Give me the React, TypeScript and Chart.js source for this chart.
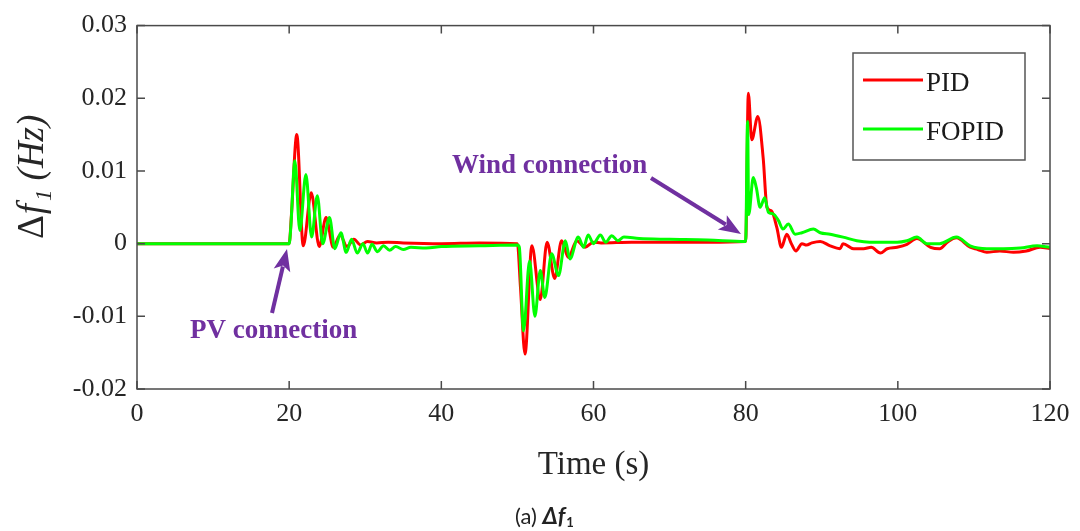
import React, { useEffect, useRef } from 'react';
import { Chart, registerables } from 'chart.js';

Chart.register(...registerables);

// ---------- data ----------
const seriesNames = ['PID', 'FOPID'];
const seriesColors = ['#ff0000', '#00ff00'];
const xTickValues = [0, 20, 40, 60, 80, 100, 120];
const yTickLabels = ['-0.02', '-0.01', '0', '0.01', '0.02', '0.03'];
const xTitle = 'Time (s)';
const annotationTexts = ['PV connection', 'Wind connection'];
const captionText = '(a) ';

const pidT = [
  0, 20, 20.3, 21.0, 21.85, 22.9, 23.95, 24.85, 25.8, 26.7, 27.6, 28.5, 29.4, 30.3, 31.5, 33, 35, 40, 45, 50,
  50.4, 51.0, 51.9, 53.0, 53.9, 54.9, 55.8, 56.7, 57.8, 58.9, 60, 61, 65, 70, 75, 80.0,
  80.35, 80.8, 81.6, 82.3, 82.8, 83.4, 84.1, 84.7, 85.4, 86.0, 86.6, 87.4, 88.0, 88.7, 89.8, 91.1, 92.4, 92.8,
  94.2, 95.5, 96.5, 97.7, 98.6, 99.9, 101.2, 102.5, 104.3, 105.5, 106.5, 107.7, 109.5, 110.5, 111.7, 113.4,
  115.2, 116.9, 118.7, 120,
];
const pidV = [
  0, 0, 0.004, 0.015, -0.0003, 0.007, -0.0004, 0.0036, -0.0005, 0.0012, -0.0004, 0.0006, -0.0002, 0.0003, 0.0001, 0.0002, 0.0001, 0, 0.0001, 0,
  -0.006, -0.0152, -0.0003, -0.0077, 0.0002, -0.0048, 0.0004, -0.0019, 0.0004, -0.0005, 0.0002, 0.0001, 0.0002, 0.0002, 0.0002, 0.0003,
  0.0207, 0.0143, 0.0175, 0.0118, 0.005, 0.0045, 0.0022, -0.0005, 0.0013, 0.0, -0.001, 0.0, -0.0002, 0.0001, 0.0003, -0.0003, -0.0007, 0.0,
  -0.0007, -0.0007, -0.0005, -0.0013, -0.0007, -0.0005, -0.0001, 0.0007, -0.0005, -0.0007, 0.0002, 0.0008, -0.0005, -0.0008, -0.0012, -0.001,
  -0.0012, -0.001, -0.0005, -0.0007,
];

const fopidT = [
  0, 20, 20.2, 20.75, 21.4, 22.2, 22.95, 23.7, 24.4, 25.3, 26.0, 26.8, 27.5, 28.2, 28.95, 29.7, 30.3, 30.9, 31.6, 32.4,
  33.2, 34.0, 35, 36, 38, 40, 45, 50, 50.25, 50.8, 51.6, 52.3, 53.0, 53.6, 54.5, 55.4, 56.3, 56.9, 58.0, 58.7,
  59.3, 60.0, 60.9, 61.6, 62.4, 63.2, 64, 66, 70, 75, 80, 80.25, 80.4, 81.0, 81.4, 81.9, 82.5, 83.0, 83.6, 84.3,
  84.9, 85.6, 86.5, 87.4, 88.9, 89.8, 91.1, 92.8, 94.6, 96.3, 97.6, 99.9, 101.2, 102.5, 103.8, 105.5, 107.7, 109.5,
  111.7, 113.9, 116.1, 118.3, 120,
];
const fopidV = [
  0, 0, 0.002, 0.0114, 0.0018, 0.0095, 0.0009, 0.0066, 0.0, 0.0036, -0.0007, 0.0015, -0.0012, 0.0006, -0.0013, 0.0, -0.0013, -0.0001, -0.0011, -0.0003,
  -0.0009, -0.0004, -0.0008, -0.0005, -0.0006, -0.0004, -0.0003, -0.0002, -0.0005, -0.012, -0.0024, -0.01, -0.0037, -0.0074, -0.0014, -0.0044, 0.0004, -0.0021, 0.0009, -0.0005,
  0.0012, 0.0, 0.0012, 0.0002, 0.0011, 0.0004, 0.0009, 0.0007, 0.0006, 0.0005, 0.0003, 0.0168, 0.004, 0.0091, 0.0077, 0.005, 0.0063, 0.0043, 0.0041, 0.0032,
  0.002, 0.0027, 0.0013, 0.0015, 0.002, 0.0015, 0.0013, 0.0009, 0.0004, 0.0002, 0.0002, 0.0002, 0.0004, 0.0009, 0.0, 0.0, 0.0009, -0.0003,
  -0.0007, -0.0007, -0.0006, -0.0003, -0.0005,
];

// ---------- drawing helpers ----------
const PURPLE = '#7030a0';
const SERIF = '"Liberation Serif", "Times New Roman", serif';

function arrow(ctx: CanvasRenderingContext2D, x1: number, y1: number, x2: number, y2: number) {
  const ang = Math.atan2(y2 - y1, x2 - x1);
  const headLen = 22;
  const headW = 8.5;
  const bx = x2 - headLen * Math.cos(ang);
  const by = y2 - headLen * Math.sin(ang);
  ctx.strokeStyle = PURPLE;
  ctx.fillStyle = PURPLE;
  ctx.lineWidth = 4;
  ctx.beginPath();
  ctx.moveTo(x1, y1);
  ctx.lineTo(bx + 4 * Math.cos(ang), by + 4 * Math.sin(ang));
  ctx.stroke();
  ctx.beginPath();
  ctx.moveTo(x2, y2);
  ctx.lineTo(bx + headW * Math.sin(ang), by - headW * Math.cos(ang));
  ctx.lineTo(bx + 5 * Math.cos(ang), by + 5 * Math.sin(ang));
  ctx.lineTo(bx - headW * Math.sin(ang), by + headW * Math.cos(ang));
  ctx.closePath();
  ctx.fill();
}

const decorPlugin = {
  id: 'decor',
  afterDatasetsDraw(chart: any) {
    const { ctx, chartArea: a, scales } = chart;
    ctx.save();
    // frame
    ctx.strokeStyle = '#4a4a4a';
    ctx.lineWidth = 1.5;
    ctx.strokeRect(a.left, a.top, a.right - a.left, a.bottom - a.top);
    // inward ticks
    ctx.beginPath();
    scales.x.ticks.forEach((t: any) => {
      const px = scales.x.getPixelForValue(t.value);
      ctx.moveTo(px, a.bottom); ctx.lineTo(px, a.bottom - 8);
      ctx.moveTo(px, a.top); ctx.lineTo(px, a.top + 8);
    });
    scales.y.ticks.forEach((t: any) => {
      const py = scales.y.getPixelForValue(t.value);
      ctx.moveTo(a.left, py); ctx.lineTo(a.left + 8, py);
      ctx.moveTo(a.right, py); ctx.lineTo(a.right - 8, py);
    });
    ctx.stroke();

    // legend box
    const lx = 853, ly = 53, lw = 172, lh = 107;
    ctx.fillStyle = '#ffffff';
    ctx.fillRect(lx, ly, lw, lh);
    ctx.strokeStyle = '#555555';
    ctx.lineWidth = 1.5;
    ctx.strokeRect(lx, ly, lw, lh);
    const ds = chart.data.datasets;
    const rows = [80, 129];
    ds.forEach((d: any, i: number) => {
      ctx.strokeStyle = d.borderColor;
      ctx.lineWidth = 3;
      ctx.beginPath();
      ctx.moveTo(863, rows[i]);
      ctx.lineTo(923, rows[i]);
      ctx.stroke();
      ctx.fillStyle = '#1a1a1a';
      ctx.font = `27px ${SERIF}`;
      ctx.textAlign = 'left';
      ctx.textBaseline = 'alphabetic';
      ctx.fillText(d.label, 926, rows[i] + 11);
    });

    // annotations
    ctx.fillStyle = PURPLE;
    ctx.font = `bold 27px ${SERIF}`;
    ctx.textAlign = 'left';
    ctx.textBaseline = 'alphabetic';
    ctx.fillText(annotationTexts[0], 190, 338);
    ctx.fillText(annotationTexts[1], 452, 173);
    arrow(ctx, 272, 313, 287, 249);
    arrow(ctx, 651, 178, 741, 234);
    ctx.restore();
  },
  afterDraw(chart: any) {
    const { ctx } = chart;
    ctx.save();
    // y-axis title: Δf1 (Hz)
    ctx.translate(43, 239);
    ctx.rotate(-Math.PI / 2);
    ctx.fillStyle = '#262626';
    ctx.textAlign = 'left';
    ctx.textBaseline = 'alphabetic';
    let x = 0;
    ctx.font = `37px ${SERIF}`;
    ctx.fillText('Δ', x, 0);
    x += ctx.measureText('Δ').width + 1;
    ctx.font = `italic 37px ${SERIF}`;
    ctx.fillText('f', x, 0);
    x += ctx.measureText('f').width + 3;
    ctx.font = `italic 23px ${SERIF}`;
    ctx.fillText('1', x, 8);
    x += ctx.measureText('1').width + 9;
    ctx.font = `italic 37px ${SERIF}`;
    ctx.fillText('(Hz)', x, 0);
    ctx.restore();

    // caption
    ctx.save();
    ctx.fillStyle = '#222222';
    ctx.textBaseline = 'alphabetic';
    ctx.textAlign = 'left';
    let cx = 515;
    const cy = 524;
    ctx.font = '22px Lato, "Open Sans", sans-serif';
    ctx.fillText(captionText, cx, cy);
    cx += ctx.measureText(captionText).width;
    ctx.font = 'bold italic 23px Lato, "Open Sans", sans-serif';
    ctx.fillText('Δ', cx, cy);
    cx += ctx.measureText('Δ').width;
    ctx.fillText('f', cx, cy);
    cx += ctx.measureText('f').width + 1;
    ctx.font = 'bold 13px Lato, "Open Sans", sans-serif';
    ctx.fillText('1', cx, cy + 3);
    ctx.restore();
  },
};

export default function App() {
  const ref = useRef<HTMLCanvasElement | null>(null);

  useEffect(() => {
    document.body.style.margin = '0';
    const canvas = ref.current;
    if (!canvas) return;
    const pid = pidT.map((t, i) => ({ x: t, y: pidV[i] }));
    const fopid = fopidT.map((t, i) => ({ x: t, y: fopidV[i] }));
    const chart = new Chart(canvas, {
      type: 'line',
      data: {
        datasets: [
          {
            label: seriesNames[0],
            data: pid,
            borderColor: seriesColors[0],
            backgroundColor: seriesColors[0],
            borderWidth: 3,
            pointRadius: 0,
            cubicInterpolationMode: 'monotone',
            order: 2,
          },
          {
            label: seriesNames[1],
            data: fopid,
            borderColor: seriesColors[1],
            backgroundColor: seriesColors[1],
            borderWidth: 3,
            pointRadius: 0,
            cubicInterpolationMode: 'monotone',
            order: 1,
          },
        ],
      },
      options: {
        responsive: false,
        animation: false,
        events: [],
        layout: { padding: { top: 24, right: 30, left: 0, bottom: 0 } },
        plugins: { legend: { display: false }, tooltip: { enabled: false } },
        scales: {
          x: {
            type: 'linear',
            min: 0,
            max: 120,
            afterBuildTicks: (s: any) => {
              s.ticks = xTickValues.map((v) => ({ value: v }));
            },
            afterFit: (s: any) => {
              s.height = 142;
            },
            grid: { display: false, drawTicks: false },
            border: { display: false },
            ticks: {
              padding: 10,
              color: '#262626',
              font: { family: SERIF, size: 26 },
              maxRotation: 0,
              callback: (v: any) => String(v),
            },
            title: {
              display: true,
              text: xTitle,
              color: '#262626',
              font: { family: SERIF, size: 33 },
              padding: { top: 0, bottom: 46 },
            },
          },
          y: {
            type: 'linear',
            min: -0.02,
            max: 0.03,
            afterBuildTicks: (s: any) => {
              s.ticks = yTickLabels.map((l) => ({ value: parseFloat(l) }));
            },
            afterFit: (s: any) => {
              s.width = 137;
            },
            grid: { display: false, drawTicks: false },
            border: { display: false },
            ticks: {
              padding: 10,
              color: '#262626',
              font: { family: SERIF, size: 26 },
              callback: (v: any) => {
                const idx = yTickLabels.findIndex((l) => Math.abs(parseFloat(l) - v) < 1e-9);
                return idx >= 0 ? yTickLabels[idx] : '';
              },
            },
          },
        },
      },
      plugins: [decorPlugin],
    } as any);
    return () => chart.destroy();
  }, []);

  return (
    <canvas
      ref={ref}
      width={1080}
      height={531}
      style={{ display: 'block', width: '1080px', height: '531px' }}
    />
  );
}
